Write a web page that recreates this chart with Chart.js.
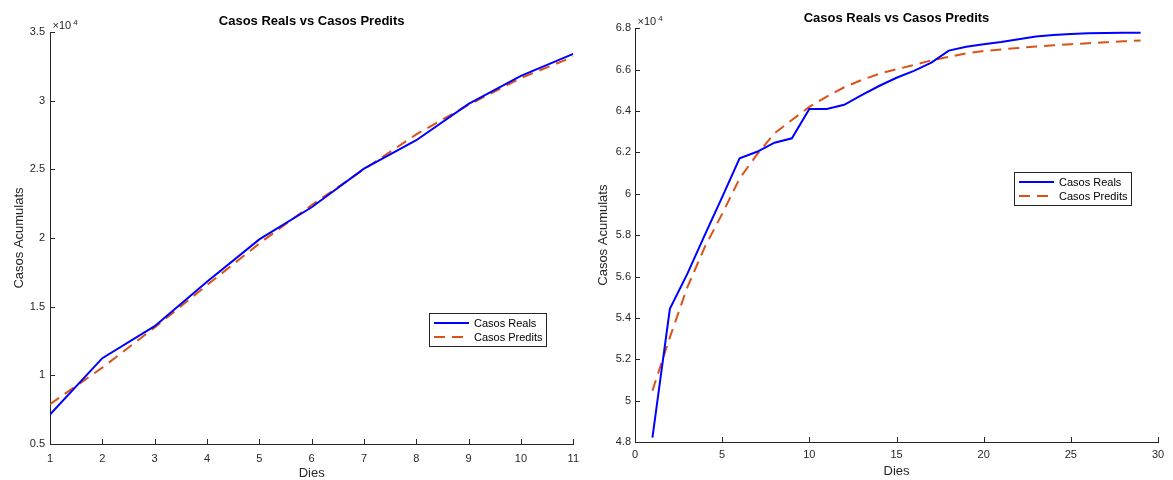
<!DOCTYPE html>
<html>
<head>
<meta charset="utf-8">
<script src="https://cdn.jsdelivr.net/npm/chart.js@4/dist/chart.umd.min.js"></script>
<style>
  html, body { margin:0; padding:0; background:#fff; }
  body { width:1173px; height:480px; position:relative; overflow:hidden; }
  .wrap { position:absolute; top:0; height:480px; }
  canvas { display:block; }
</style>
</head>
<body>
<div class="wrap" style="left:0;width:587px"><canvas id="c1" width="587" height="480"></canvas></div>
<div class="wrap" style="left:587px;width:586px"><canvas id="c2" width="586" height="480"></canvas></div>
<script>
// ---------- data ----------
const chartTitle = "Casos Reals vs Casos Predits";
const xTitle = "Dies";
const yTitle = "Casos Acumulats";
const seriesNames = ["Casos Reals", "Casos Predits"];

// left panel
const daysA = [1,2,3,4,5,6,7,8,9,10,11];
const realA = [7150, 11250, 13580, 16810, 19900, 22240, 25050, 27120, 29760, 31800, 33410];
const predA = [7900, 10560, 13480, 16570, 19600, 22400, 25000, 27550, 29700, 31650, 33200];
const xTicksA = [1,2,3,4,5,6,7,8,9,10,11];
const yTicksA = [5000,10000,15000,20000,25000,30000,35000];

// right panel
const daysB = [1,2,3,4,5,6,7,8,9,10,11,12,13,14,15,16,17,18,19,20,21,22,23,24,25,26,27,28,29];
const realB = [48210, 54440, 56130, 58000, 59840, 61710, 62030, 62470, 62680, 64100, 64100, 64300, 64770,
               65210, 65610, 65940, 66340, 66920, 67110, 67230, 67340, 67470, 67600, 67680, 67730, 67760,
               67770, 67790, 67790];
const predB = [50480, 53060, 55480, 57420, 59030, 60740, 61900, 62920, 63570, 64200, 64700, 65150, 65500,
               65800, 66020, 66230, 66450, 66620, 66790, 66900, 66980, 67050, 67120, 67180, 67230, 67280,
               67320, 67370, 67410];
const xTicksB = [0,5,10,15,20,25,30];
const yTicksB = [48000,50000,52000,54000,56000,58000,60000,62000,64000,66000,68000];

// ---------- styles ----------
const AX = '#262626';
const BLUE = '#0000ff';
const ORANGE = '#d95319';
const FONT = 'Liberation Sans, Arial, Helvetica, sans-serif';

function toPts(xs, ys){ return xs.map((x,i)=>({x:x, y:ys[i]})); }
function fmtY(v){ return String(+(v/1e4).toFixed(1)); }

const matlabPlugin = {
  id: 'matlab',
  afterDraw(chart, args, opts) {
    const ctx = chart.ctx;
    const ca = chart.chartArea;
    const xs = chart.scales.x, ys = chart.scales.y;
    ctx.save();
    // inward ticks
    ctx.strokeStyle = AX; ctx.lineWidth = 1;
    ctx.beginPath();
    xs.ticks.forEach(t => {
      const px = Math.round(xs.getPixelForValue(t.value)) + 0.5;
      ctx.moveTo(px, ca.bottom); ctx.lineTo(px, ca.bottom - 5);
    });
    ys.ticks.forEach(t => {
      const py = Math.round(ys.getPixelForValue(t.value)) + 0.5;
      ctx.moveTo(ca.left, py); ctx.lineTo(ca.left + 5, py);
    });
    ctx.stroke();
    // exponent label
    ctx.fillStyle = AX;
    ctx.textBaseline = 'alphabetic';
    ctx.textAlign = 'left';
    ctx.font = '11px ' + FONT;
    const ex = ca.left + 2.5, ey = ca.top - 3;
    ctx.fillText('\u00d710', ex, ey);
    const w = ctx.measureText('\u00d710').width;
    ctx.font = '8px ' + FONT;
    ctx.fillText('4', ex + w + 2, ey - 4.5);
    // legend box
    const lg = opts.legend;
    const bx = lg.x, by = lg.y, bw = 117, bh = 33;
    ctx.fillStyle = '#fff';
    ctx.fillRect(bx, by, bw, bh);
    ctx.strokeStyle = AX; ctx.lineWidth = 1;
    ctx.strokeRect(bx + 0.5, by + 0.5, bw, bh);
    const rows = [by + 10, by + 24];
    chart.data.datasets.forEach((ds, i) => {
      ctx.strokeStyle = ds.borderColor; ctx.lineWidth = 2;
      ctx.setLineDash(ds.borderDash || []);
      ctx.beginPath();
      ctx.moveTo(bx + 5, rows[i]); ctx.lineTo(bx + 40, rows[i]);
      ctx.stroke();
      ctx.setLineDash([]);
      ctx.fillStyle = '#000';
      ctx.font = '11px ' + FONT;
      ctx.textBaseline = 'middle';
      ctx.fillText(ds.label, bx + 45, rows[i] + 0.5);
    });
    ctx.restore();
  }
};

function makeChart(id, xs, real, pred, xTicks, yTicks, g) {
  return new Chart(document.getElementById(id), {
    type: 'scatter',
    data: {
      datasets: [
        { label: seriesNames[0], data: toPts(xs, real), showLine: true, borderColor: BLUE,
          backgroundColor: BLUE, borderWidth: 2, pointRadius: 0, tension: 0 },
        { label: seriesNames[1], data: toPts(xs, pred), showLine: true, borderColor: ORANGE,
          backgroundColor: ORANGE, borderWidth: 2, borderDash: [11, 7], pointRadius: 0, tension: 0 }
      ]
    },
    options: {
      responsive: false,
      animation: false,
      events: [],
      layout: { padding: { left: 0, right: g.padRight, top: 0, bottom: 0 } },
      plugins: {
        legend: { display: false },
        tooltip: { enabled: false },
        title: {
          display: true, text: chartTitle, color: '#000', fullSize: false,
          font: { family: FONT, size: 13, weight: 'bold', lineHeight: 1.2 },
          padding: { top: g.titleTop, bottom: g.titleBottom }
        },
        matlab: { legend: g.legend }
      },
      scales: {
        x: {
          type: 'linear', min: xTicks[0], max: xTicks[xTicks.length - 1],
          afterBuildTicks: s => { s.ticks = xTicks.map(v => ({ value: v })); },
          afterFit: s => { s.height = g.xHeight; },
          grid: { display: false, drawTicks: false },
          border: { display: true, color: AX, width: 1 },
          ticks: { color: AX, font: { family: FONT, size: 11 }, padding: g.xTickPad, maxRotation: 0,
                   callback: v => String(v) },
          title: { display: true, text: xTitle, color: AX,
                   font: { family: FONT, size: 13, lineHeight: 1.0 }, padding: { top: 0, bottom: g.xTitleBottom } }
        },
        y: {
          type: 'linear', min: yTicks[0], max: yTicks[yTicks.length - 1],
          afterBuildTicks: s => { s.ticks = yTicks.map(v => ({ value: v })); },
          afterFit: s => { s.width = g.yWidth; },
          grid: { display: false, drawTicks: false },
          border: { display: true, color: AX, width: 1 },
          ticks: { color: AX, font: { family: FONT, size: 11 }, padding: g.yTickPad,
                   callback: v => fmtY(v) },
          title: { display: true, text: yTitle, color: AX,
                   font: { family: FONT, size: 13, lineHeight: 1.2 }, padding: { top: g.yTitleTop, bottom: 0 } }
        }
      }
    },
    plugins: [matlabPlugin]
  });
}

makeChart('c1', daysA, realA, predA, xTicksA, yTicksA,
  { padRight: 12, yWidth: 50, titleTop: 13.7, titleBottom: 2.7, xHeight: 36, xTickPad: 8, xTitleBottom: 0,
    yTickPad: 5, yTitleTop: 11.5, legend: { x: 429, y: 313 } });
makeChart('c2', daysB, realB, predB, xTicksB, yTicksB,
  { padRight: 15, yWidth: 48, titleTop: 10.5, titleBottom: 2.2, xHeight: 38, xTickPad: 6, xTitleBottom: 2.5,
    yTickPad: 4, yTitleTop: 8.5, legend: { x: 1014 - 587, y: 172 } });
</script>
</body>
</html>
